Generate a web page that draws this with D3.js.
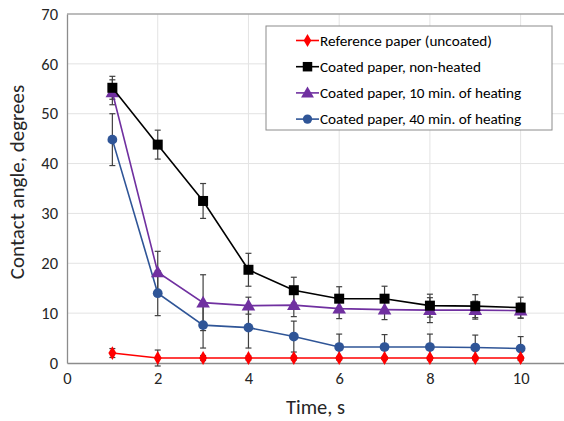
<!DOCTYPE html>
<html><head><meta charset="utf-8">
<script src="https://cdn.jsdelivr.net/npm/d3@7"></script>
<style>body{margin:0;background:#fff;} svg{display:block;}</style>
</head><body>
<script>
const times = [1,2,3,4,5,6,7,8,9,10];
const seriesNames = ["Reference paper (uncoated)","Coated paper, non-heated","Coated paper, 10 min. of heating","Coated paper, 40 min. of heating"];
const refVals   = [2.0,1.0,1.0,1.0,1.0,1.0,1.0,1.0,1.0,1.0];
const refErr    = [0.9,1.6,0.5,0.4,0.4,0.3,0.3,0.3,0.3,0.3];
const nonVals   = [55.2,43.8,32.5,18.7,14.6,12.9,12.9,11.5,11.4,11.1];
const nonErr    = [2.3,2.9,3.5,3.3,2.6,2.4,2.5,2.3,2.3,2.1];
const h10Vals   = [54.3,18.2,12.1,11.5,11.6,10.9,10.7,10.6,10.6,10.5];
const h10Err    = [2.5,4.2,5.6,1.7,2.3,2.0,2.0,2.5,1.8,1.5];
const h40Vals   = [44.8,14.0,7.6,7.1,5.3,3.2,3.2,3.2,3.1,2.9];
const h40Err    = [5.2,4.5,4.6,4.1,3.1,2.6,2.5,2.6,2.5,2.4];
const xTicks = [0,2,4,6,8,10];
const yTicks = [0,10,20,30,40,50,60,70];
const colors = ["#ff0000","#000000","#7030a0","#2f5597"];
const symbols = [d3.symbolDiamond, d3.symbolSquare, d3.symbolTriangle, d3.symbolCircle];
const symSizes = [55, 100, 80, 75];

const W=564,H=421;
const L=67,T=14,R=566,B=363;
const x=d3.scaleLinear().domain([0,11]).range([L,R]);
const y=d3.scaleLinear().domain([0,70]).range([B,T]);
const font="Carlito, Lato, 'Open Sans', sans-serif";

const svg=d3.select("body").append("svg").attr("width",W).attr("height",H);

// gridlines
svg.append("g").selectAll("line").data(yTicks.filter(d=>d>0&&d<70)).join("line")
  .attr("x1",L).attr("x2",R).attr("y1",d=>y(d)).attr("y2",d=>y(d))
  .attr("stroke","#e3e3e3").attr("stroke-width",1);
svg.append("g").selectAll("line").data(xTicks.filter(d=>d>0)).join("line")
  .attr("y1",T).attr("y2",B).attr("x1",d=>x(d)).attr("x2",d=>x(d))
  .attr("stroke","#e3e3e3").attr("stroke-width",1);
// top border
svg.append("line").attr("x1",L).attr("x2",R).attr("y1",y(70)).attr("y2",y(70)).attr("stroke","#a6a6a6").attr("stroke-width",1.3);

// axes
const yAxis=svg.append("g").attr("transform",`translate(${L},0)`)
  .call(d3.axisLeft(y).tickValues(yTicks).tickSize(0).tickPadding(9));
const xAxis=svg.append("g").attr("transform",`translate(0,${B})`)
  .call(d3.axisBottom(x).tickValues(xTicks).tickSize(0).tickPadding(9));
[yAxis,xAxis].forEach(a=>{
  a.select(".domain").attr("stroke","#8c8c8c").attr("stroke-width",1.3);
  a.selectAll("text").attr("font-family",font).attr("font-size",16.5).attr("fill","#262626");
});

// titles
svg.append("text").attr("transform",`translate(24,182) rotate(-90)`)
  .attr("text-anchor","middle").attr("font-family",font).attr("font-size",21).attr("fill","#262626")
  .text("Contact angle, degrees");
svg.append("text").attr("x",315.5).attr("y",414).attr("text-anchor","middle")
  .attr("font-family",font).attr("font-size",20.5).attr("fill","#262626").text("Time, s");

const allVals=[refVals,nonVals,h10Vals,h40Vals];
const allErr=[refErr,nonErr,h10Err,h40Err];

// error bars (draw first)
allVals.forEach((vals,si)=>{
  const g=svg.append("g");
  const data=times.map((t,i)=>({t,v:vals[i],e:allErr[si][i]}));
  g.selectAll("line.v").data(data).join("line").attr("class","v")
    .attr("x1",d=>x(d.t)).attr("x2",d=>x(d.t)).attr("y1",d=>y(d.v-d.e)).attr("y2",d=>y(d.v+d.e))
    .attr("stroke","#404040").attr("stroke-width",1.2);
  ["-","+"].forEach(s=>{
    g.selectAll("line.c"+(s==="+"?"p":"m")).data(data).join("line")
      .attr("x1",d=>x(d.t)-3).attr("x2",d=>x(d.t)+3)
      .attr("y1",d=>y(s==="+"?d.v+d.e:d.v-d.e)).attr("y2",d=>y(s==="+"?d.v+d.e:d.v-d.e))
      .attr("stroke","#404040").attr("stroke-width",1.2);
  });
});

const order=[3,2,1,0];
order.forEach(si=>{
  const vals=allVals[si];
  const data=times.map((t,i)=>({t,v:vals[i]}));
  svg.append("path").datum(data)
    .attr("d",d3.line().x(d=>x(d.t)).y(d=>y(d.v)))
    .attr("fill","none").attr("stroke",colors[si]).attr("stroke-width",1.6);
  svg.append("g").selectAll("path").data(data).join("path")
    .attr("transform",d=>`translate(${x(d.t)},${y(d.v)+(si===2?1:0)})`)
    .attr("d",d3.symbol().type(symbols[si]).size(symSizes[si]))
    .attr("fill",colors[si]);
});

// legend
const lg=svg.append("g");
lg.append("rect").attr("x",266).attr("y",26).attr("width",286).attr("height",104)
  .attr("fill","#fff").attr("stroke","#8c8c8c").attr("stroke-width",1);
seriesNames.forEach((name,i)=>{
  const cy=40.5+i*26.2;
  lg.append("line").attr("x1",296).attr("x2",319).attr("y1",cy).attr("y2",cy)
    .attr("stroke",colors[i]).attr("stroke-width",1.6);
  lg.append("path").attr("transform",`translate(307.5,${cy+(i===2?1:0)})`)
    .attr("d",d3.symbol().type(symbols[i]).size(symSizes[i]*0.9)).attr("fill",colors[i]);
  lg.append("text").attr("x",320).attr("y",cy).attr("dy","0.35em")
    .attr("font-family",font).attr("font-size",15.2).attr("fill","#000").text(name);
});
</script>
</body></html>
